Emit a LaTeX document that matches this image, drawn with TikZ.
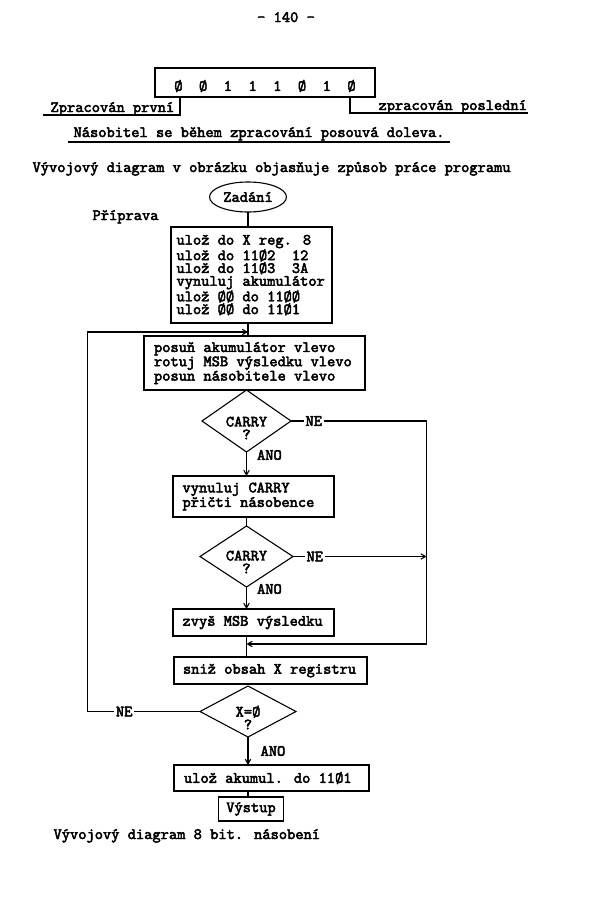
\documentclass[tikz,border=0pt]{standalone}
\usepackage{fontspec}
\newfontfamily\tw{lmmono10-regular}[Extension=.otf,FakeBold=3]
\newcommand\typed{\tw\fontsize{15.7pt}{12.8pt}\selectfont}
\usepackage{tikz}
\usetikzlibrary{positioning,arrows,calc,shapes.geometric}

\begin{document}
\begin{tikzpicture}[x=1pt,y=-1pt,font=\typed,line width=1.1pt,>=angle 60,
  box/.style={draw,align=flush left,inner ysep=0pt,outer sep=0pt},
  dia/.style={draw,diamond,inner sep=0pt,outer sep=0pt},
  lbl/.style={inner sep=1pt},
  txt/.style={inner sep=0pt,anchor=base west}]

  \useasboundingbox (0,0) rectangle (600,924);

  \node[txt,anchor=base] (page) at (286,22) {- 140 -};
  \node[draw,minimum width=220pt,minimum height=29pt,text height=16.6pt,text depth=0pt,inner sep=0pt,outer sep=0pt] (bits) at (265,82.5) {Ø~~Ø~~1~~1~~1~~Ø~~1~~Ø};
  \node[txt,inner xsep=7pt] (first) at (43,112) {Zpracován první};
  \node[txt,inner xsep=1pt] (last) at (377,110) {zpracován poslední};
  \node[txt,inner xsep=5pt] (mult) at (68,137) {Násobitel se během zpracování posouvá doleva.};
  \node[txt] (intro) at (32,172) {Vývojový diagram v obrázku objasňuje způsob práce programu};
  \node[txt] (prep) at (92,220) {Příprava};

  \draw ([yshift=-3pt]first.base west) -| ([xshift=25pt]bits.south west);
  \draw ([xshift=-25pt]bits.south east) |- ([yshift=-3pt]last.base east);
  \draw ([yshift=-5pt]mult.base west) -- ([yshift=-5pt]mult.base east);

  \node[draw,ellipse,minimum width=77pt,minimum height=30pt,inner sep=0pt,outer sep=0pt] (e0) at (248,197) {Zadání};
  \node[box,text width=150pt,inner xsep=5.5pt,minimum height=96pt] (b1) [below=15pt of e0,xshift=3.5pt] {ulož do X reg. 8\\ulož do 11Ø2~~12\\ulož do 11Ø3~~3A\\vynuluj akumulátor\\ulož ØØ do 11ØØ\\ulož ØØ do 11Ø1};
  \node[box,text width=201pt,inner xsep=10pt,minimum height=54pt] (b2) [below=13pt of b1,xshift=3pt] {posuň akumulátor vlevo\\rotuj MSB výsledku vlevo\\posun násobitele vlevo};
  \node[dia,minimum width=89pt,minimum height=62pt] (d1) [below=0pt of b2,xshift=-8pt] {};
  \node[box,text width=142pt,inner xsep=9.5pt,minimum height=41pt] (b3) [below=24pt of d1,xshift=7pt] {vynuluj CARRY\\přičti násobence};
  \node[dia,minimum width=93pt,minimum height=61pt] (d2) [below=9pt of b3,xshift=-7pt] {};
  \node[box,text width=142pt,inner xsep=9.5pt,minimum height=27pt] (b4) [below=22pt of d2,xshift=7pt] {zvyš MSB výsledku};
  \node[box,text width=175pt,inner xsep=9pt,minimum height=27pt] (b5) [below=21pt of b4,xshift=17pt] {sniž obsah X registru};
  \node[dia,minimum width=96pt,minimum height=51pt] (d3) [below=2pt of b5,xshift=-22.5pt] {};
  \node[box,text width=175pt,inner xsep=10pt,minimum height=26pt] (b6) [below=28pt of d3,xshift=23.5pt] {ulož akumul. do 11Ø1};
  \node[box,inner xsep=8pt,minimum height=24pt] (out) [below=6pt of b6,xshift=-20.5pt] {Výstup};

  \node[align=center,inner sep=0pt] (d1t) at ([yshift=-7pt]d1.center) {CARRY\\?};
  \node[align=center,inner sep=0pt] (d2t) at ([yshift=-5.5pt]d2.center) {CARRY\\?};
  \node[align=center,inner sep=0pt] (d3t) at ([yshift=-6pt]d3.center) {X=Ø\\?};

  \node[lbl] (ne1) [right=13pt of d1.east] {NE};
  \node[lbl] (ne2) [right=12pt of d2.east] {NE};
  \node[lbl] (ne3) [left=66pt of d3.west] {NE};
  \node[lbl] (ano1) [right=9pt of d1.south,yshift=-3pt] {ANO};
  \node[lbl] (ano2) [right=9pt of d2.south,yshift=-2pt] {ANO};
  \node[lbl] (ano3) [right=11pt of d3.south,yshift=-14pt] {ANO};

  \node[txt] (cap) at (53,839) {Vývojový diagram 8 bit. násobení};

  \coordinate (r1) at ([xshift=103pt]ne1.east);
  \coordinate (l1) at ([xshift=-27pt]ne3.west);
  \coordinate (m0) at ($(e0.south |- b1.south)+(0pt,-9pt)$);
  \coordinate (m1) at ($(d2.south |- b4.south)+(0pt,-8pt)$);

  \draw (e0.south) -- (e0.south |- b1.north);
  \draw (e0.south |- b1.south) -- (e0.south |- b2.north);
  \draw[->] (d1.south) -- (d1.south |- b3.north);
  \draw (d1.south |- b3.south) -- (d2.north);
  \draw[->] (d2.south) -- (d2.south |- b4.north);
  \draw (d2.south |- b4.south) -- (d2.south |- b5.north);
  \draw[->] (d3.south) -- (d3.south |- b6.north);
  \draw (d3.south |- b6.south) -- (d3.south |- out.north);

  \draw (d1.east) -- (ne1.west);
  \draw[->] (ne1.east) -- (r1) |- (m1);
  \draw (d2.east) -- (ne2.west);
  \draw[->] (ne2.east) -- (ne2.east -| r1);
  \draw (d3.west) -- (ne3.east);
  \draw[->] (ne3.west) -- (l1) |- (m0);

\end{tikzpicture}
\end{document}
